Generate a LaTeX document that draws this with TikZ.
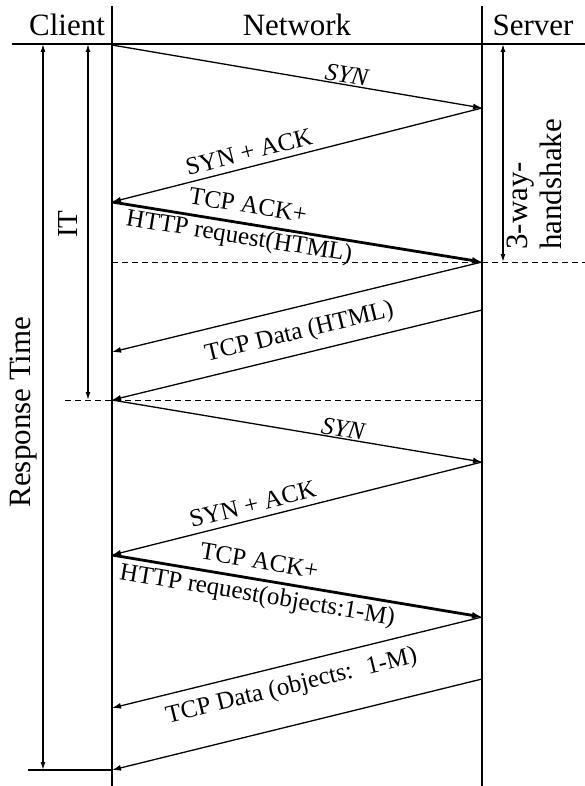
\documentclass[tikz,border=0pt]{standalone}
\usepackage{fontspec}
\setmainfont{Liberation Serif}
\usetikzlibrary{arrows.meta}

\begin{document}
\begin{tikzpicture}[x=1pt,y=-1pt,
  lifeline/.style={line width=1.5pt},
  rule/.style={line width=1.3pt},
  msg/.style={line width=1.3pt,-{Latex[length=9pt,width=6pt]}},
  boldmsg/.style={line width=2.8pt,-{Latex[length=10pt,width=7pt]}},
  span/.style={line width=1.3pt,{Latex[length=8pt,width=5pt]}-{Latex[length=8pt,width=5pt]}},
  guide/.style={line width=1pt,dash pattern=on 6pt off 4pt},
  head/.style={font=\fontsize{31}{33}\selectfont,anchor=base,inner sep=0pt},
  lbl/.style={font=\fontsize{25}{27}\selectfont,sloped,inner sep=1pt},
  itlbl/.style={font=\fontsize{25}{27}\selectfont\itshape,sloped,inner sep=1pt},
  side/.style={font=\fontsize{31}{34}\selectfont,rotate=90,inner sep=0pt}]
\useasboundingbox (0,0) rectangle (585,786);

% lifelines and header rule
\coordinate (ctop) at (112,6);  \coordinate (cbot) at (112,786);
\coordinate (stop) at (482,6);  \coordinate (sbot) at (482,786);
\coordinate (hl) at (12,44);    \coordinate (hr) at (585,44);
\draw[lifeline] (ctop) -- (cbot);
\draw[lifeline] (stop) -- (sbot);
\draw[rule] (hl) -- (hr);

% column titles
\node[head] (tclient) at (67,36) {Client};
\node[head] (tnet) at (297,36) {Network};
\node[head] (tserver) at (533,36) {Server};

% message end points on the lifelines
\coordinate (c1) at (112,45);  \coordinate (s1) at (482,108);
\coordinate (c2) at (112,202); \coordinate (s2) at (482,262);
\coordinate (c3) at (112,352); \coordinate (s3) at (482,310);
\coordinate (c4) at (112,400); \coordinate (s4) at (482,462);
\coordinate (c5) at (112,555); \coordinate (s5) at (482,617);
\coordinate (c6) at (112,708); \coordinate (s6) at (482,679);
\coordinate (c7) at (112,770);

% first exchange: HTML page
\draw[msg] (c1) -- node[itlbl,above,pos=0.63] (l1) {SYN} (s1);
\draw[msg] (s1) -- node[lbl,above=5pt,pos=0.62] (l2) {SYN + ACK} (c2);
\draw[boldmsg] (c2) -- node[lbl,above=8pt,pos=0.36] (l3a) {TCP ACK+}
                      node[lbl,below=1pt,pos=0.35] (l3b) {HTTP request(HTML)} (s2);
\draw[msg] (s2) -- (c3);
\draw[msg] (s3) -- node[lbl,above=8pt,pos=0.48] (l4) {TCP Data (HTML)} (c4);

% second exchange: embedded objects
\draw[msg] (c4) -- node[itlbl,above,pos=0.62] (l5) {SYN} (s4);
\draw[msg] (s4) -- node[lbl,above=5pt,pos=0.61] (l6) {SYN + ACK} (c5);
\draw[boldmsg] (c5) -- node[lbl,above=8pt,pos=0.39] (l7a) {TCP ACK+}
                      node[lbl,below=3pt,pos=0.40] (l7b) {HTTP request(objects:1-M)} (s5);
\draw[msg] (s5) -- (c6);
\draw[msg] (s6) -- node[lbl,above=25pt,pos=0.49] (l8) {TCP Data (objects: \ 1-M)} (c7);

% phase boundaries
\coordinate (g1a) at (112,262); \coordinate (g1b) at (585,262);
\coordinate (g2a) at (65,400);  \coordinate (g2b) at (482,400);
\draw[guide] (g1a) -- (g1b);
\draw[guide] (g2a) -- (g2b);
\coordinate (bl) at (28,770);
\draw[rule] (bl) -- (c7);

% interval markers
\coordinate (rt1) at (43,44);  \coordinate (rt2) at (43,770);
\coordinate (it1) at (88,44);  \coordinate (it2) at (88,400);
\coordinate (hs1) at (503,44); \coordinate (hs2) at (503,262);
\draw[span] (rt1) -- (rt2);
\draw[span] (it1) -- (it2);
\draw[span] (hs1) -- (hs2);

\node[side] (lrt) at (24,412) {Response Time};
\node[side,font=\fontsize{29}{31}\selectfont] (lit) at (68,224) {IT};
\node[side,align=left,anchor=north west] (lhs) at (507,250) {3-way-\\handshake};
\end{tikzpicture}
\end{document}
